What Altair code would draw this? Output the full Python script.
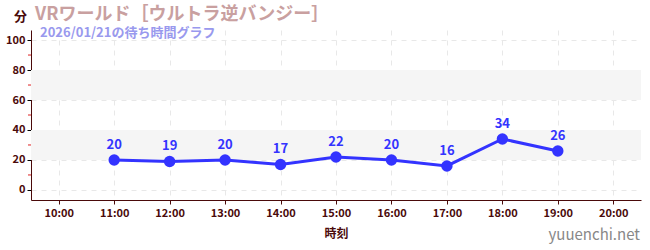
import altair as alt
import pandas as pd

hours = [11, 12, 13, 14, 15, 16, 17, 18, 19]
waits = [20, 19, 20, 17, 22, 20, 16, 34, 26]
x_ticks = [10, 11, 12, 13, 14, 15, 16, 17, 18, 19, 20]
y_ticks = [0, 20, 40, 60, 80, 100]
y_minor = [10, 30, 50, 70, 90]
bands_lo = [20, 60]
bands_hi = [40, 80]

title_text = "VRワールド［ウルトラ逆バンジー］"
subtitle_text = "2026/01/21の待ち時間グラフ"
unit_text = "分"
xlabel_text = "時刻"
watermark = "yuuenchi.net"

FONT = "Noto Sans CJK JP"
DARK = "#4a0a0a"
BLUE = "#3333ff"

df = pd.DataFrame({"h": hours, "w": waits})
bands = pd.DataFrame({"lo": bands_lo, "hi": bands_hi})
minor = pd.DataFrame({"m": y_minor})

xs = alt.Scale(domain=[9.5, 20.5], nice=False, zero=False)
ys = alt.Scale(domain=[-6.7, 106.7], nice=False, zero=False)

xaxis = alt.Axis(values=x_ticks, labelExpr="datum.value + ':00'", title=xlabel_text,
                 grid=True, gridDash=[5, 5], gridColor="#e8e8e8",
                 domainColor=DARK, tickColor=DARK, labelColor=DARK, titleColor=DARK,
                 labelFont=FONT, titleFont=FONT, labelFontSize=11, titleFontSize=12,
                 labelFontWeight="bold", titleFontWeight="bold", tickSize=4,
                 titlePadding=10, labelPadding=3, labelOverlap=False)
yaxis = alt.Axis(values=y_ticks, title=None, grid=True, gridDash=[5, 5], gridColor="#e8e8e8",
                 domainColor=DARK, tickColor="#000000", labelColor=DARK,
                 labelFont=FONT, labelFontSize=11, labelFontWeight="bold", tickSize=4,
                 labelOverlap=False)

band = alt.Chart(bands).mark_rect(color="#f5f5f5").encode(
    x=alt.value(0), x2=alt.value(610),
    y=alt.Y("lo:Q", scale=ys, axis=yaxis), y2="hi:Q")

minor_ticks = alt.Chart(minor).mark_rule(color="#dd2222", strokeWidth=1).encode(
    x=alt.value(-3), x2=alt.value(0), y=alt.Y("m:Q", scale=ys, axis=yaxis))

line = alt.Chart(df).mark_line(color=BLUE, strokeWidth=3).encode(
    x=alt.X("h:Q", scale=xs, axis=xaxis), y=alt.Y("w:Q", scale=ys, axis=yaxis))
pts = alt.Chart(df).mark_circle(color=BLUE, size=130, opacity=1).encode(
    x=alt.X("h:Q", scale=xs, axis=xaxis), y=alt.Y("w:Q", scale=ys, axis=yaxis))
labels = alt.Chart(df).mark_text(color=BLUE, font=FONT, fontSize=13, fontWeight="bold",
                                 dy=-15).encode(
    x=alt.X("h:Q", scale=xs, axis=xaxis), y=alt.Y("w:Q", scale=ys, axis=yaxis), text="w:Q")

def txt(s, x, y, size, color, align="left", weight="bold"):
    return alt.Chart(pd.DataFrame({"t": [s]})).mark_text(
        font=FONT, fontSize=size, color=color, align=align, baseline="middle",
        fontWeight=weight).encode(x=alt.value(x), y=alt.value(y), text="t:N")

t_unit = txt(unit_text, -17, -13, 13, DARK)
t_title = txt(title_text, 4, -15, 18, "#c9a0a0")
t_sub = txt(subtitle_text, 9, 2.5, 13, "#9999ee", weight="bold")
t_wm = txt(watermark, 609, 205, 15, "#888888", align="right", weight="normal")

chart = alt.layer(band, minor_ticks, line, pts, labels, t_unit, t_title, t_sub, t_wm).properties(
    width=610, height=170,
    autosize=alt.AutoSizeParams(type="none"),
    padding={"left": 31, "top": 30, "right": 9, "bottom": 50},
    background="white",
).configure_view(stroke=None)

chart.save("out.html", embed_options={"renderer": "svg", "actions": False})
